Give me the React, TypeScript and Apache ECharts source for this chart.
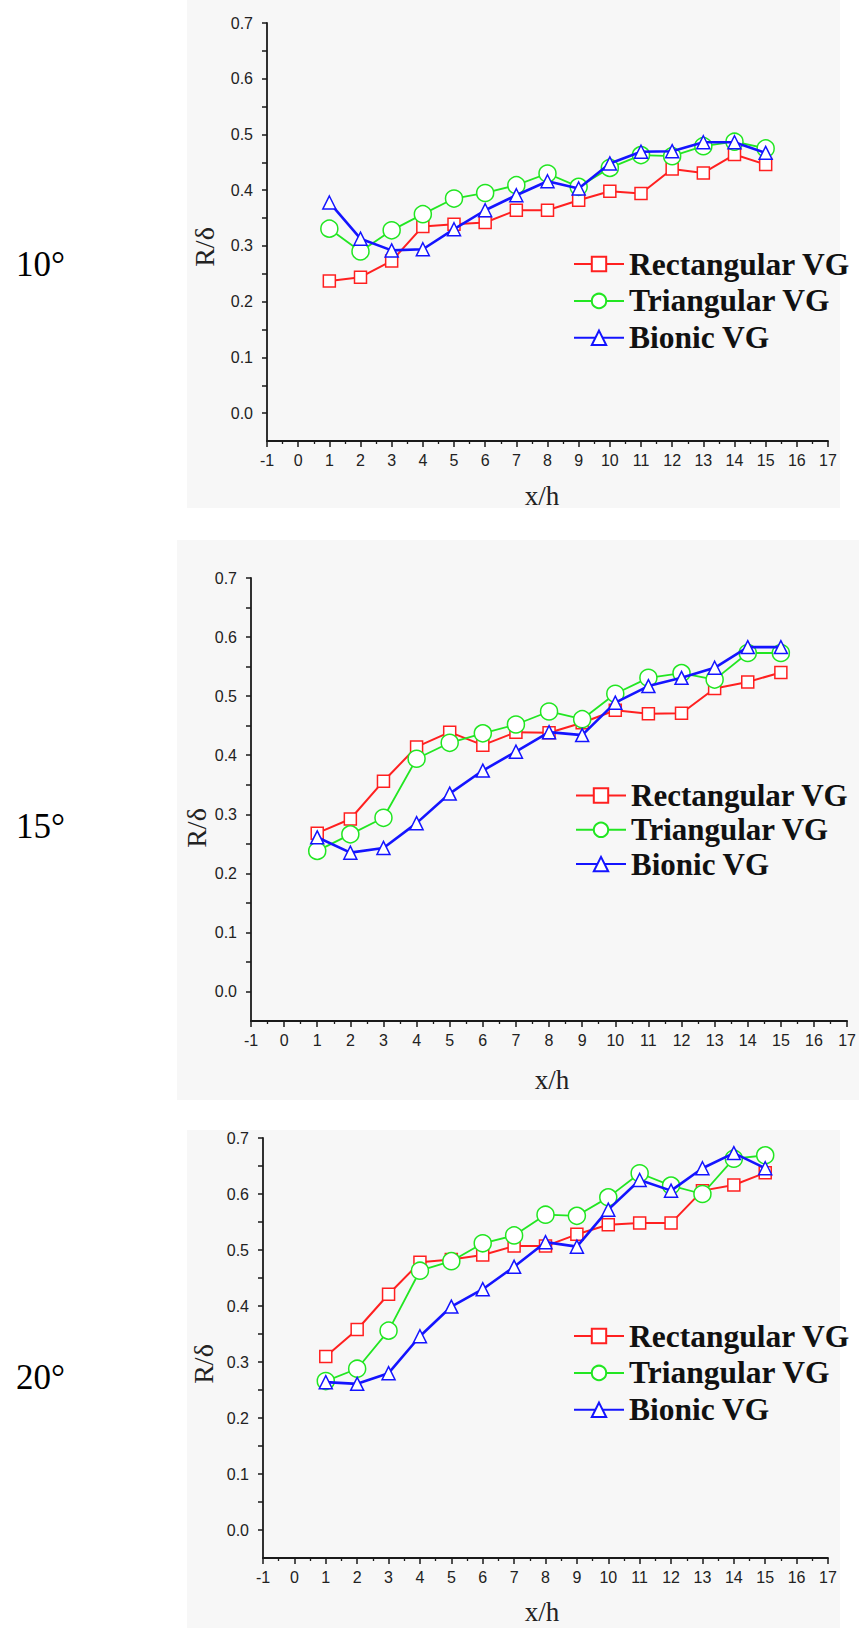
import React, { useEffect, useRef } from "react";
import * as echarts from "echarts";

// ---------- data ----------
const X_VALUES = [1, 2, 3, 4, 5, 6, 7, 8, 9, 10, 11, 12, 13, 14, 15];
const SERIES_NAMES = ["Rectangular VG", "Triangular VG", "Bionic VG"];
const ANGLE_LABELS = ["10°", "15°", "20°"];
const Y_MAJOR = [0, 0.1, 0.2, 0.3, 0.4, 0.5, 0.6, 0.7];
const Y_TICKS = [0, 0.05, 0.1, 0.15, 0.2, 0.25, 0.3, 0.35, 0.4, 0.45, 0.5, 0.55, 0.6, 0.65, 0.7];
const X_NAME = "x/h";
const Y_NAME = "R/δ";

const RECT_10 = [0.237, 0.244, 0.273, 0.335, 0.339, 0.342, 0.364, 0.364, 0.382, 0.398, 0.394, 0.438, 0.431, 0.464, 0.446];
const TRI_10 = [0.331, 0.29, 0.328, 0.357, 0.385, 0.395, 0.409, 0.43, 0.406, 0.44, 0.463, 0.461, 0.479, 0.487, 0.475];
const BIO_10 = [0.378, 0.313, 0.292, 0.294, 0.33, 0.364, 0.391, 0.416, 0.403, 0.448, 0.469, 0.47, 0.486, 0.486, 0.467];

const RECT_15 = [0.268, 0.292, 0.356, 0.414, 0.439, 0.417, 0.439, 0.438, 0.455, 0.476, 0.47, 0.471, 0.513, 0.524, 0.54];
const TRI_15 = [0.238, 0.266, 0.294, 0.394, 0.421, 0.437, 0.452, 0.474, 0.461, 0.504, 0.531, 0.539, 0.528, 0.573, 0.573];
const BIO_15 = [0.261, 0.235, 0.243, 0.285, 0.335, 0.374, 0.406, 0.439, 0.434, 0.489, 0.517, 0.531, 0.548, 0.583, 0.583];

const RECT_20 = [0.31, 0.358, 0.421, 0.478, 0.483, 0.491, 0.507, 0.507, 0.528, 0.545, 0.548, 0.548, 0.606, 0.616, 0.638];
const TRI_20 = [0.266, 0.288, 0.356, 0.463, 0.48, 0.512, 0.526, 0.563, 0.561, 0.594, 0.637, 0.615, 0.6, 0.663, 0.669];
const BIO_20 = [0.264, 0.261, 0.28, 0.346, 0.399, 0.43, 0.47, 0.514, 0.506, 0.572, 0.625, 0.606, 0.646, 0.673, 0.646];

const PANELS = [
  [RECT_10, TRI_10, BIO_10],
  [RECT_15, TRI_15, BIO_15],
  [RECT_20, TRI_20, BIO_20],
];

// ---------- layout / style ----------
const W = 859;
const H = 1628;

const GRIDS = [
  { left: 267, top: 23, width: 561, height: 418 },
  { left: 251, top: 578, width: 598, height: 443 },
  { left: 263, top: 1138, width: 565, height: 420 },
];
const BGS = [
  { x: 187, y: 0, w: 653, h: 508 },
  { x: 177, y: 540, w: 682, h: 560 },
  { x: 187, y: 1130, w: 653, h: 498 },
];
const LEGENDS = [
  { left: 573, top: 248, gap: 4.9, fontSize: 31.5 },
  { left: 575, top: 780, gap: 3.3, fontSize: 31 },
  { left: 573, top: 1320, gap: 4.9, fontSize: 31.5 },
];
const ANGLE_POS = [
  { x: 16, y: 264 },
  { x: 16, y: 826 },
  { x: 16, y: 1377 },
];
const YNAME_POS = [
  { x: 204, y: 247 },
  { x: 196, y: 828 },
  { x: 203, y: 1364 },
];
const XNAME_POS = [
  { x: 542, y: 496 },
  { x: 552, y: 1080 },
  { x: 542, y: 1612 },
];

const STYLES = [
  { symbol: "rect", size: 12, color: "#ff2020", width: 2 },
  { symbol: "circle", size: 17, color: "#22e622", width: 1.8 },
  { symbol: "triangle", size: 13, color: "#1414ff", width: 2.6 },
];

const AXIS_COLOR = "#1a1a1a";
const LABEL_COLOR = "#222";

function buildOption() {
  const xAxis: any[] = [];
  const yAxis: any[] = [];
  const series: any[] = [];
  const legend: any[] = [];
  const graphic: any[] = [];

  BGS.forEach((b) => {
    graphic.push({
      type: "rect",
      z: -10,
      shape: { x: b.x, y: b.y, width: b.w, height: b.h },
      style: { fill: "#f7f7f7" },
      silent: true,
    });
  });

  GRIDS.forEach((g, p) => {
    xAxis.push({
      gridIndex: p,
      type: "value",
      min: -1,
      max: 17,
      interval: 1,
      position: "bottom",
      axisLine: { show: true, onZero: false, lineStyle: { color: AXIS_COLOR, width: 1.8 } },
      axisTick: { show: true, inside: false, length: 6, lineStyle: { color: AXIS_COLOR, width: 1.5 } },
      minorTick: { show: true, splitNumber: 2, length: 3, lineStyle: { color: AXIS_COLOR, width: 1.3 } },
      axisLabel: {
        show: true,
        margin: 11,
        fontSize: 16,
        fontFamily: "Liberation Sans",
        color: LABEL_COLOR,
        formatter: (v: number) => String(Math.round(v)),
      },
      splitLine: { show: false },
      minorSplitLine: { show: false },
    });
    yAxis.push({
      gridIndex: p,
      type: "value",
      min: -0.05,
      max: 0.7,
      interval: 0.05,
      position: "left",
      axisLine: { show: true, onZero: false, lineStyle: { color: AXIS_COLOR, width: 1.8 } },
      axisTick: {
        show: true,
        inside: false,
        length: 5,
        customValues: Y_TICKS,
        lineStyle: { color: AXIS_COLOR, width: 1.5 },
      },
      axisLabel: {
        show: true,
        margin: 14,
        fontSize: 16,
        fontFamily: "Liberation Sans",
        color: LABEL_COLOR,
        customValues: Y_MAJOR,
        formatter: (v: number) => {
          const r = Math.round(v * 100);
          if (r < 0 || r % 10 !== 0) return "";
          return (r / 100).toFixed(1);
        },
      },
      splitLine: { show: false },
    });
  });

  PANELS.forEach((vals, p) => {
    vals.forEach((arr, k) => {
      const st = STYLES[k];
      series.push({
        type: "line",
        name: SERIES_NAMES[k],
        xAxisIndex: p,
        yAxisIndex: p,
        data: X_VALUES.map((x, i) => [x, arr[i]]),
        symbol: st.symbol,
        symbolSize: st.size,
        showSymbol: true,
        showAllSymbol: true,
        clip: false,
        z: 2 + k,
        lineStyle: { color: st.color, width: st.width },
        itemStyle: { color: "#ffffff", borderColor: st.color, borderWidth: 1.5 },
        emphasis: { disabled: true },
      });
    });
    const lg = LEGENDS[p];
    legend.push({
      data: SERIES_NAMES,
      orient: "vertical",
      left: lg.left,
      top: lg.top,
      itemWidth: 50,
      itemHeight: 18,
      itemGap: lg.gap,
      selectedMode: false,
      padding: 0,
      textStyle: {
        fontFamily: "Liberation Serif",
        fontWeight: "bold",
        fontSize: lg.fontSize,
        lineHeight: 28,
        color: "#111",
      },
    });

    const ap = ANGLE_POS[p];
    graphic.push({
      type: "text",
      x: ap.x,
      y: ap.y,
      style: {
        text: ANGLE_LABELS[p],
        fontSize: 35,
        fontFamily: "Liberation Serif",
        fill: "#000",
        align: "left",
        verticalAlign: "middle",
        textAlign: "left",
        textVerticalAlign: "middle",
      },
    });
    const yp = YNAME_POS[p];
    graphic.push({
      type: "text",
      x: yp.x,
      y: yp.y,
      rotation: Math.PI / 2,
      style: {
        text: Y_NAME,
        fontSize: 28,
        fontFamily: "Liberation Serif",
        fill: "#222",
        align: "center",
        verticalAlign: "middle",
        textAlign: "center",
        textVerticalAlign: "middle",
      },
    });
    const xp = XNAME_POS[p];
    graphic.push({
      type: "text",
      x: xp.x,
      y: xp.y,
      style: {
        text: X_NAME,
        fontSize: 27,
        fontFamily: "Liberation Serif",
        fill: "#222",
        align: "center",
        verticalAlign: "middle",
        textAlign: "center",
        textVerticalAlign: "middle",
      },
    });
  });

  return {
    animation: false,
    backgroundColor: "#ffffff",
    grid: GRIDS.map((g) => ({ ...g, containLabel: false })),
    xAxis,
    yAxis,
    series,
    legend,
    graphic: { elements: graphic },
    tooltip: { show: false },
  };
}

export default function App() {
  const ref = useRef<HTMLDivElement | null>(null);
  useEffect(() => {
    if (!ref.current) return;
    const chart = echarts.init(ref.current, undefined, { renderer: "svg", width: W, height: H });
    chart.setOption(buildOption() as any);
    return () => {
      chart.dispose();
    };
  }, []);
  return (
    <div
      ref={ref}
      style={{ position: "absolute", left: 0, top: 0, width: W, height: H, background: "#fff" }}
    />
  );
}
